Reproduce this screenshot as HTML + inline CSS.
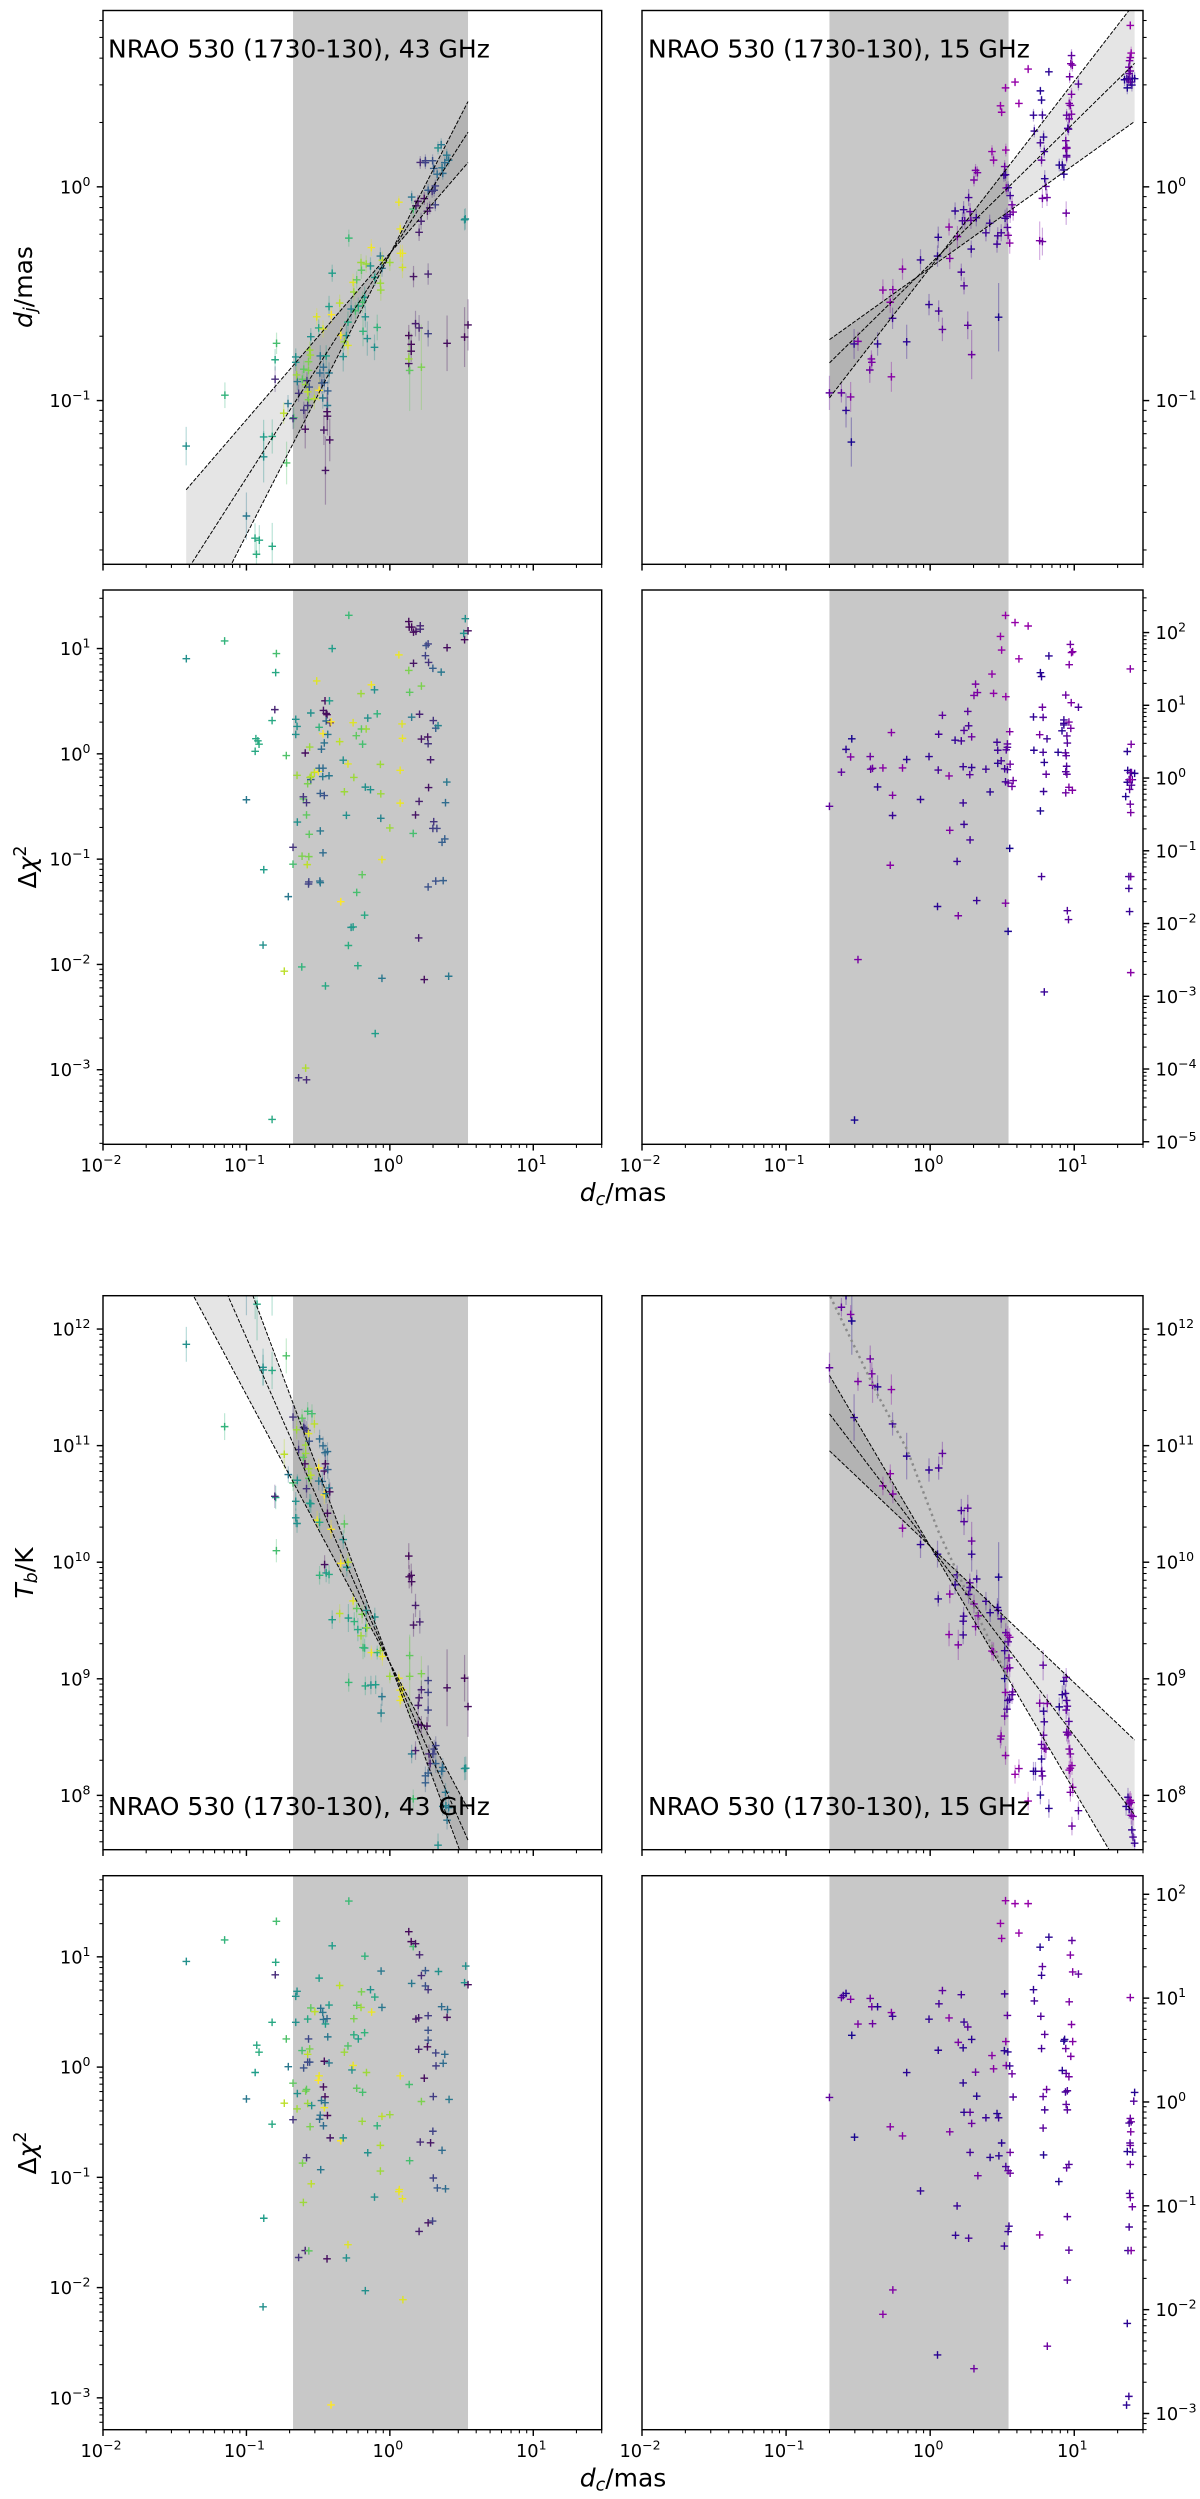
<!DOCTYPE html>
<html lang="en">
<head>
<meta charset="utf-8">
<title>NRAO 530 jet distance and brightness temperature fits</title>
<style>
html,body{margin:0;padding:0;background:#fff;}
svg{display:block;font-family:"DejaVu Sans","Liberation Sans",sans-serif;}
</style>
</head>
<body>
<svg id="figure" xmlns="http://www.w3.org/2000/svg" width="1200" height="2499" viewBox="0 0 1200 2499">
<defs id="clips"></defs>
<g id="plots"></g>
<g font-size="25" fill="#000">
<text x="108" y="57.5">NRAO 530 (1730-130), 43 GHz</text>
<text x="648" y="57.5">NRAO 530 (1730-130), 15 GHz</text>
<text x="108" y="1815">NRAO 530 (1730-130), 43 GHz</text>
<text x="648" y="1815">NRAO 530 (1730-130), 15 GHz</text>
</g>
<g font-size="25" fill="#000">
<text transform="translate(32,287) rotate(-90)" text-anchor="middle"><tspan font-style="italic">d</tspan><tspan font-style="italic" font-size="17.5" dy="4">j</tspan><tspan dy="-4">/mas</tspan></text>
<text transform="translate(36,867) rotate(-90)" text-anchor="middle">Δ<tspan font-style="italic">χ</tspan><tspan font-size="17.5" dy="-10">2</tspan></text>
<text transform="translate(33,1573) rotate(-90)" text-anchor="middle"><tspan font-style="italic">T</tspan><tspan font-style="italic" font-size="17.5" dy="4">b</tspan><tspan dy="-4">/K</tspan></text>
<text transform="translate(36,2153) rotate(-90)" text-anchor="middle">Δ<tspan font-style="italic">χ</tspan><tspan font-size="17.5" dy="-10">2</tspan></text>
<text x="623" y="1201" text-anchor="middle"><tspan font-style="italic">d</tspan><tspan font-style="italic" font-size="17.5" dy="4">c</tspan><tspan dy="-4">/mas</tspan></text>
<text x="623" y="2486.5" text-anchor="middle"><tspan font-style="italic">d</tspan><tspan font-style="italic" font-size="17.5" dy="4">c</tspan><tspan dy="-4">/mas</tspan></text>
</g>
</svg>
<script>
// All values below are log10 of the plotted quantity.
const xTickExponents = [-2,-1,0,1];
const yTickExpJet = [-1,0];
const yTickExpChiTop43 = [-3,-2,-1,0,1];
const yTickExpChiTop15 = [-5,-4,-3,-2,-1,0,1,2];
const yTickExpTb = [8,9,10,11,12];
const yTickExpChiBottom43 = [-3,-2,-1,0,1];
const yTickExpChiBottom15 = [-3,-2,-1,0,1,2];

const coreBand43 = [-0.675,0.545];
const coreBand15 = [-0.699,0.544];

const jetFitRange43 = [-1.42,0.545];
const jetFitSlopes43 = [0.779,1.047,1.312];
const jetFitIntercepts43 = [-0.311,-0.315,-0.316];
const jetFitRange15 = [-0.699,1.419];
const jetFitSlopes15 = [0.482,0.662,0.872];
const jetFitIntercepts15 = [-0.378,-0.361,-0.378];
const tbFitRange43 = [-1.42,0.545];
const tbFitSlopes43 = [-2.30,-2.79,-3.30];
const tbFitIntercepts43 = [9.136,9.136,9.136];
const tbFitRange15 = [-0.699,1.419];
const tbFitSlopes15 = [-1.171,-1.624,-2.097];
const tbFitIntercepts15 = [10.137,10.137,10.137];
const tbDottedLogDc15 = [-0.693,-0.533,-0.36,-0.16,0.053,0.2,0.427,0.547];
const tbDottedLogTb15 = [12.279,11.869,11.425,10.966,10.276,9.882,9.29,8.995];

const jetDc43 = [-1.42,-1.15,-1,-.94,-.91,-.93,-.82,-.88,-.88,-.82,-.8,-.8,-.79,-.74,-.72,-.71,-.67,-.675,-.656,-.656,-.645,-.65,-.636,-.61,-.6,-.6,-.59,-.587,-.578,-.573,-.567,-.567,-.562,-.559,-.554,-.551,-.567,-.573,-.526,-.51,-.493,-.496,-.488,-.485,-.466,-.463,-.474,-.457,-.444,-.468,-.435,-.433,-.424,-.424,-.408,-.402,-.46,-.438,-.435,-.419,-.449,-.35,-.342,-.325,-.303,-.292,-.317,-.292,-.286,-.27,-.256,-.251,-.24,-.231,-.22,-.198,-.201,-.165,-.187,-.19,-.176,-.171,-.157,-.135,-.129,-.107,-.105,-.088,-.066,-.055,-.052,-.066,-.063,0,.063,.072,.074,.088,.088,.132,.149,.149,.132,.132,.138,.22,.165,.179,.204,.204,.218,.267,.267,.399,.521,.545,.521,.526,.163,.152,.182,.196,.24,.262,.278,.267,.295,.309,.317,.317,.306,.33,.369,.364,.212,.248,.248,.298,.383,.397,.41,.336,.358];
const jetVal43 = [-1.213,-.975,-1.54,-1.644,-1.653,-1.719,-1.682,-1.263,-1.17,-1.168,-.9,-.809,-.732,-1.059,-1.292,-1.014,-1.08,-1.084,-.796,-.821,-.911,-.88,-.966,-.9,-.853,-1.045,-1.134,-.925,-.907,-.959,-.818,-.859,-.937,-.764,-.787,-.701,-.996,-1.023,-.991,-.608,-.952,-.66,-.871,-.791,-.665,-.844,-.918,-.916,-.791,-.988,-1.023,-.955,-.871,-.56,-.598,-.404,-1.138,-1.052,-1.073,-1.184,-1.327,-.544,-.694,-.794,-.696,-.633,-.725,-.742,-.24,-.572,-.447,-.492,-.58,-.435,-.558,-.39,-.354,-.361,-.676,-.54,-.517,-.608,-.71,-.37,-.284,-.751,-.424,-.658,-.324,-.381,-.343,-.451,-.483,-.354,-.072,-.197,-.311,-.311,-.377,-.696,-.737,-.769,-.827,-.805,-.859,-.844,-.42,-.64,-.66,-.213,-.161,-.687,-.408,-.732,-.703,-.646,-.154,-.15,-.104,-.048,-.089,-.068,-.055,-.114,-.098,-.016,-.021,-.016,-.084,.004,.086,.059,.063,.089,.114,.113,.122,.122,.113,.148,.125,.182,.197];
const jetEpoch43 = [.5,.65,.4,.6,.6,.62,.6,.5,.55,.6,.12,.6,.7,.9,.72,.4,.7,.15,.5,.5,.4,.85,.15,.75,.75,.15,.03,.85,.18,.9,.8,.8,.25,.85,.85,.5,.8,.15,.9,.95,1,.6,.35,.4,.95,.35,.25,.3,.55,.4,.4,.3,.4,.55,1,.55,.05,.03,.03,.03,.05,.9,1,.5,.5,.6,.85,.95,.68,.45,.95,.85,.7,.75,.6,.75,.85,.85,.65,.7,.55,.5,.5,.5,.98,.5,.55,.65,.4,.4,.9,.85,.85,.85,.97,.97,.97,.97,.93,.02,.02,.02,.05,.85,.75,.8,.05,.08,.1,.08,.1,.2,.1,.03,.02,.03,.5,.5,.7,.38,.05,.05,.03,.05,.1,.3,.15,.2,.2,.2,.3,.35,.35,.38,.12,.2,.2,.25,.35,.4,.38,.5,.4];
const jetErr43 = [.09,.06,.11,.07,.07,.07,.11,.12,.08,.08,.06,.05,.05,.05,.1,.04,.05,.05,.04,.04,.04,.04,.04,.04,.04,.04,.09,.04,.04,.05,.04,.04,.04,.04,.04,.04,.05,.04,.05,.04,.05,.04,.05,.05,.04,.05,.05,.05,.05,.05,.05,.05,.05,.05,.04,.04,.07,.09,.09,.1,.16,.04,.04,.07,.05,.05,.04,.05,.04,.05,.04,.04,.04,.04,.04,.04,.04,.04,.07,.05,.05,.05,.08,.04,.04,.06,.04,.06,.04,.04,.04,.05,.05,.04,.03,.03,.04,.04,.05,.05,.05,.05,.05,.06,.19,.2,.05,.06,.06,.04,.04,.06,.05,.13,.14,.12,.05,.05,.04,.03,.03,.03,.03,.04,.03,.03,.03,.03,.03,.03,.03,.03,.03,.03,.03,.03,.03,.03,.03,.03,.03,.03,.03];

const jetDc15 = [1.389,1.395,1.389,1.384,1.379,1.389,1.381,1.365,1.349,1.376,1.403,1.419,1.389,1.368,1.4,.981,.976,.987,.968,1.029,.981,.965,.973,.981,.947,.965,.955,.96,.941,.947,.941,.949,.947,.947,.896,.917,.928,.928,.944,.68,.589,.523,.488,.496,.616,.824,.765,.773,.717,.779,.723,.787,.765,.792,.773,.795,.803,.779,.811,.76,.779,.429,.525,.44,.517,.523,.512,.315,.328,.304,.528,.541,.555,.568,.576,.555,.533,.52,.536,.541,.552,.267,.173,.232,.277,.32,.224,.24,.283,.413,.387,.469,.493,.464,.285,.131,.189,.056,.051,-.067,.136,-.192,.216,.235,-.328,-.259,-.277,-.008,.059,.085,-.261,.261,.475,.288,-.163,-.365,-.528,-.501,-.408,-.405,-.419,-.269,-.699,-.616,-.552,-.584,-.547];
const jetVal15 = [.755,.626,.605,.59,.56,.542,.53,.506,.501,.501,.508,.506,.49,.463,.476,.614,.576,.569,.515,.481,.433,.39,.381,.34,.335,.318,.274,.27,.216,.184,.179,.181,.147,.14,.102,.102,.079,.059,-.123,.551,.49,.463,.379,.349,.39,.538,.449,.406,.335,.336,.261,.233,.206,.165,.125,.038,.002,-.054,-.05,-.252,-.256,.165,.172,.125,.095,.057,.054,.077,.066,.032,-.005,-.004,-.041,-.084,-.118,-.129,-.138,-.147,-.19,-.227,-.263,-.05,-.113,-.107,-.116,-.145,-.159,-.159,-.157,-.17,-.215,-.229,-.215,-.268,-.291,-.188,-.233,-.236,-.324,-.342,-.335,-.385,-.399,-.463,-.483,-.481,-.54,-.551,-.581,-.667,-.615,-.648,-.61,-.785,-.725,-.735,-.735,-.723,-.805,-.821,-.857,-.889,-.964,-.964,-.983,-1.046,-1.194];
const jetEpoch15 = [1,1,.9,.8,.7,.75,.6,.3,.1,.4,.3,.15,.6,.1,.2,.6,.8,.8,.7,.5,.8,.8,.8,.8,.6,.7,.3,.5,.7,.6,.8,.8,.5,.6,.15,.2,.2,.2,.7,1,1,1,1,1,1,.2,.15,.15,.25,.3,.25,.2,.4,.35,.6,.2,.6,.7,.7,.8,.7,.95,1,.95,.7,.3,.3,.8,.8,.8,.8,.3,.35,.7,.8,.6,.5,.3,.5,.8,.9,.4,.25,.3,.6,.3,.3,.5,.6,.3,.35,.35,.4,.35,.25,.9,.8,.2,.2,.25,.85,.9,.4,.5,.9,.85,.9,.25,.4,.6,.3,.55,.1,.7,.2,.2,.25,.8,.8,.8,.7,.9,.6,.6,.85,.2,.05];
const jetErr15 = [.02,.03,.03,.03,.03,.03,.03,.03,.03,.03,.03,.03,.03,.03,.03,.03,.03,.03,.03,.03,.03,.03,.03,.03,.03,.03,.03,.03,.03,.03,.03,.03,.03,.03,.03,.03,.03,.03,.055,.02,.02,.02,.02,.02,.02,.02,.02,.02,.03,.03,.03,.03,.03,.03,.03,.04,.04,.045,.04,.09,.065,.03,.03,.03,.03,.03,.03,.03,.03,.03,.03,.03,.03,.04,.04,.04,.04,.04,.04,.04,.05,.04,.04,.04,.04,.04,.04,.04,.04,.04,.04,.04,.04,.04,.04,.04,.05,.05,.05,.05,.05,.05,.04,.04,.05,.05,.05,.05,.05,.055,.05,.065,.16,.115,.08,.055,.07,.045,.04,.04,.06,.07,.08,.045,.07,.08,.115];

const chiDc43 = [-1.419,-1.152,-1,-.939,-.934,-.92,-.912,-.884,-.879,-.821,-.821,-.802,-.796,-.791,-.736,-.722,-.708,-.675,-.675,-.656,-.647,-.656,-.647,-.645,-.636,-.614,-.612,-.603,-.603,-.59,-.587,-.581,-.581,-.581,-.573,-.576,-.567,-.565,-.565,-.562,-.559,-.556,-.551,-.551,-.548,-.526,-.51,-.499,-.493,-.493,-.488,-.485,-.485,-.485,-.477,-.466,-.466,-.466,-.457,-.468,-.457,-.452,-.463,-.449,-.444,-.438,-.444,-.433,-.424,-.421,-.416,-.41,-.402,-.35,-.342,-.325,-.317,-.303,-.292,-.286,-.289,-.27,-.256,-.256,-.251,-.234,-.223,-.231,-.201,-.198,-.193,-.19,-.171,-.165,-.176,-.154,-.135,-.129,-.107,-.102,-.088,-.066,-.063,-.063,-.055,-.055,0,.063,.072,.072,.085,.088,.132,.138,.132,.135,.152,.165,.165,.152,.163,.179,.182,.201,.204,.207,.212,.212,.22,.22,.24,.248,.253,.267,.267,.264,.267,.27,.27,.284,.3,.303,.306,.3,.32,.32,.336,.328,.358,.364,.372,.383,.388,.397,.399,.41,.521,.515,.526,.545];
const chiVal43 = [.904,1.072,-.436,.024,.144,.124,.092,-1.816,-1.1,-3.472,.316,.42,.772,.952,-2.064,-.016,-1.356,-1.048,-.888,.328,.26,.184,-.204,-.648,-3.076,-2.024,-.972,-.428,-.408,.008,-2.984,-.464,-3.096,-.58,-.284,-1.052,-1.236,-1.216,-.976,-.764,.064,-.224,-.244,.388,-.216,-.176,.692,-.168,.252,-.136,-1.208,-1.224,-.732,-.376,.044,-.136,-.94,.192,.104,-.216,-.396,.504,.412,-2.204,.384,.372,.312,.184,-.208,.504,.296,.304,1,.116,-1.404,-.06,-.36,-.584,-.096,1.316,-1.82,-1.648,-1.644,.296,-.224,.172,-2.012,-1.316,.572,.236,-1.148,.092,-.316,.236,-1.532,.34,-.34,.656,.608,-2.656,.38,-.1,-.38,-.612,-1.004,-2.132,-.704,.94,-.156,-.468,.284,.148,.792,.584,1.256,1.204,1.204,1.156,.86,.348,-.756,-.58,1.164,-1.748,-.452,.376,1.216,1.184,.644,.14,-2.144,.932,1.028,1.044,-1.264,.16,.096,.868,-.32,-.056,.812,.316,-.644,-.708,.244,-1.208,.268,-.708,.776,-.84,-1.204,-.808,-.464,-.268,1.008,-2.112,1.084,1.144,1.284,1.168];
const chiEpoch43 = [.5,.65,.4,.6,.6,.6,.62,.5,.55,.6,.6,.1,.6,.7,.9,.72,.4,.7,.15,.5,.5,.5,.85,.5,.15,.65,.8,.75,.15,.03,.88,.15,.12,.75,.8,.9,.2,.2,.8,.75,.85,.85,.3,.5,.9,.9,.95,1,.65,.35,.35,.4,.4,.3,.35,.35,.35,1,.38,.4,.25,.03,.05,.6,.03,.03,.35,.4,.4,.55,.03,1,.55,.9,1,.5,.85,.5,.95,.68,.62,.5,.55,.95,.85,.75,.6,.7,.85,.75,.75,.7,.5,.85,.6,.5,.5,.98,.5,.55,.65,.85,.85,.45,.97,.4,.85,.97,.97,.97,.95,.97,.8,.75,.02,.02,.02,.02,.05,.4,.7,.05,.05,.08,.08,.1,.1,.12,.8,.05,.03,.2,.25,.2,.25,.05,.15,.15,.05,.08,.3,.15,.15,.18,.3,.25,.45,.2,.4,.3,.3,.3,.35,.4,.03,.4,.02,.5,.5,.03];

const chiDc15 = [-.699,-.616,-.584,-.552,-.544,-.525,-.501,-.416,-.413,-.4,-.365,-.328,-.277,-.269,-.261,-.261,-.192,-.163,-.067,-.008,.051,.056,.059,.085,.131,.136,.173,.187,.195,.216,.229,.229,.235,.235,.261,.267,.275,.277,.288,.288,.304,.315,.328,.323,.387,.416,.429,.44,.464,.469,.469,.493,.488,.496,.517,.523,.523,.525,.523,.528,.536,.536,.536,.541,.541,.552,.552,.555,.568,.576,.589,.616,.68,.717,.72,.76,.765,.765,.773,.773,.779,.784,.784,.787,.792,.792,.805,.811,.824,.888,.915,.928,.928,.928,.941,.939,.944,.947,.941,.949,.941,.949,.952,.952,.96,.963,.976,.963,.965,.973,.981,.989,.979,.987,1.029,1.389,1.395,1.368,1.371,1.389,1.397,1.419,1.403,1.368,1.381,1.389,1.397,1.384,1.357,1.389,1.392,1.379,1.392,1.379,1.384,1.392];
const chiVal15 = [-.388,.081,.394,.29,.539,-4.702,-2.496,.295,.122,.133,-.122,.139,-1.199,.625,-.237,-.515,.139,.255,-.295,.295,-1.766,.11,.602,.863,.029,-.718,.521,-1.146,-1.893,.51,-.342,.156,.654,-.637,.915,.718,.046,-.851,.567,.145,1.135,1.291,1.175,-1.685,.122,-.191,1.43,1.164,.492,.382,.203,.237,1.946,1.76,.127,2.235,-1.72,1.118,-.052,.388,.116,.423,.469,-.069,-2.108,.637,-.967,.191,-.116,-.035,2.137,1.639,2.09,.84,.382,.596,1.448,-.452,1.395,-1.355,.973,.834,.353,-.185,.214,-2.941,.052,.539,1.679,.353,.649,.799,.753,.73,1.141,.347,.307,.162,.087,.052,-.203,.579,.481,-1.824,-1.946,.77,.683,-.127,1.558,1.836,1.725,1.737,1.036,-.168,.973,1.5,.463,.365,.104,.075,.075,.064,-.023,-.058,-.023,-.023,-.098,-.156,-.255,-.359,-.475,-1.355,-1.355,-1.517,-1.836,-2.675];
const chiEpoch15 = [.6,.6,.2,.85,.05,.05,.8,.7,.6,.7,.2,.9,.9,.9,.85,.3,.9,.2,.25,.25,.2,.4,.4,.6,.9,.85,.25,.3,.8,.4,.3,.3,.5,.3,.55,.4,.55,.4,.7,.25,.8,.8,.8,.3,.35,.2,.95,.95,.35,.35,.2,.4,1,1,.35,1,.85,1,.35,.5,.4,.55,.6,.6,.1,.85,.05,.7,.7,.7,1,1,1,.25,.2,.8,.15,.1,.2,.4,.7,.5,.4,.3,.2,.3,.6,.35,.2,.15,.2,.3,.3,.3,.7,.5,.6,.45,.5,.6,.7,.55,.5,.5,.55,.8,.75,.8,.85,.75,.85,.9,.8,.85,.45,.9,.8,.2,.2,.3,.7,.15,.5,.2,.6,1,.5,.6,.15,.7,.8,.3,.7,.3,.3,.9];

const tbDc43 = [-1.419,-1.152,-1,-.939,-.926,-.821,-.884,-.884,-.821,-.722,-.796,-.802,-.791,-.736,-.708,-.675,-.675,-.656,-.656,-.647,-.645,-.65,-.636,-.612,-.603,-.601,-.592,-.592,-.587,-.587,-.581,-.579,-.573,-.567,-.565,-.565,-.551,-.551,-.559,-.543,-.526,-.562,-.507,-.496,-.49,-.49,-.471,-.496,-.466,-.452,-.435,-.457,-.457,-.449,-.444,-.433,-.424,-.419,-.435,-.41,-.455,-.49,-.444,-.424,-.402,-.35,-.342,-.325,-.317,-.3,-.292,-.287,-.289,-.256,-.248,-.231,-.223,-.201,-.193,-.187,-.176,-.168,-.16,-.171,-.165,-.132,-.129,-.105,-.099,-.088,-.066,-.061,-.055,-.052,0,.063,.072,.088,.072,.083,.132,.135,.149,.152,.138,.138,.22,.165,.179,.209,.267,.267,.267,.22,.204,.198,.198,.22,.259,.399,.521,.545,.152,.179,.273,.281,.3,.309,.32,.32,.361,.369,.248,.267,.248,.163,.388,.369,.391,.41,.399,.336,.521,.529];
const tbVal43 = [11.869,11.163,12.378,12.345,12.213,12.345,11.649,11.672,11.645,11.77,10.555,10.565,10.099,10.926,10.752,10.68,11.245,10.522,10.381,10.332,10.703,11.136,10.966,11.235,10.9,11.156,11.146,10.844,11.005,10.933,10.631,11.13,11.294,11.103,10.801,10.719,10.746,10.502,10.506,11.274,11.186,11.038,10.361,10.808,10.342,11.057,10.693,10.696,10.998,10.939,10.949,10.578,10.782,10.844,10.588,10.795,10.637,10.604,10.42,10.282,9.98,9.888,9.908,9.895,9.507,9.56,9.99,10.194,10.328,9.957,10,8.969,9.521,9.668,9.491,9.603,9.422,9.369,9.553,9.268,9.264,9.435,9.438,8.939,9.586,8.946,9.225,9.53,8.949,9.225,9.241,8.706,8.847,9.192,9.021,9.005,8.903,8.906,8.814,8.847,10.053,9.875,9.888,9.833,9.199,9.021,9.044,9.461,9.629,9.488,8.985,8.883,8.732,8.906,8.837,8.772,8.608,8.601,8.594,8.923,9.005,8.762,8.355,8.384,8.355,8.273,8.355,8.397,8.427,8.273,8.207,8.24,8.168,8.191,8.108,7.97,8.026,7.905,7.911,7.895,7.787,7.573,8.23,8.233];
const tbEpoch43 = [.5,.65,.4,.6,.6,.6,.5,.5,.6,.72,.6,.12,.7,.9,.4,.7,.15,.5,.5,.5,.5,.85,.15,.75,.75,.15,.18,.03,.85,.85,.15,.18,.7,.95,.85,.75,.9,.5,.55,.7,.9,.25,.97,1,.6,.35,.35,.4,.35,.35,.35,1,.05,.03,.4,.3,.4,.03,.03,1,.03,.65,.55,.6,.55,.9,1,.5,.75,.5,.9,.68,.55,.95,.65,.75,.6,.85,.8,.7,.65,.55,.85,.6,.5,.5,.98,.5,.55,.65,.85,.45,.4,.97,.85,.97,.97,.97,.97,.97,.02,.02,.03,.03,.75,.8,.8,.05,.08,.1,.2,.2,.2,.1,.08,.08,.05,.03,.03,.03,.02,.03,.4,.08,.1,.1,.2,.2,.2,.3,.35,.35,.3,.3,.3,.7,.4,.4,.45,.4,.38,.5,.5,.5];
const tbErr43 = [.15,.115,.26,.26,.31,.23,.13,.16,.16,.15,.1,.1,.1,.13,.07,.07,.1,.08,.08,.08,.05,.08,.08,.08,.08,.08,.08,.08,.08,.08,.08,.08,.08,.08,.08,.08,.08,.08,.08,.08,.08,.08,.08,.08,.08,.08,.08,.08,.08,.08,.08,.08,.08,.08,.08,.08,.08,.08,.08,.08,.08,.08,.08,.08,.08,.08,.08,.08,.08,.08,.08,.08,.12,.08,.08,.08,.1,.08,.08,.1,.08,.08,.08,.08,.08,.08,.06,.08,.08,.06,.08,.08,.08,.08,.06,.06,.06,.06,.06,.06,.11,.1,.1,.1,.18,.34,.15,.1,.1,.1,.13,.12,.1,.08,.08,.08,.08,.08,.08,.33,.2,.26,.08,.08,.08,.08,.08,.08,.08,.08,.08,.08,.08,.08,.08,.08,.08,.08,.08,.08,.08,.1,.1,.1];

const tbDc15 = [-.699,-.616,-.584,-.552,-.544,-.416,-.405,-.4,-.365,-.501,-.528,-.269,-.261,-.277,-.328,-.259,-.163,-.192,-.067,-.008,.059,.085,.051,.056,.136,.131,.195,.173,.187,.216,.235,.261,.288,.288,.275,.277,.267,.304,.333,.315,.323,.232,.229,.229,.387,.416,.467,.475,.472,.493,.429,.44,.525,.539,.552,.541,.517,.547,.536,.552,.517,.523,.573,.568,.539,.552,.533,.517,.493,.488,.523,.589,.616,.68,.717,.731,.773,.779,.765,.824,.773,.773,.787,.792,.787,.76,.813,.784,.803,.792,.896,.917,.939,.947,.952,.944,.928,.944,.963,.947,.96,.955,.965,.973,.973,.984,.965,.989,.973,1.029,.984,1.373,1.384,1.395,1.36,1.381,1.395,1.408,1.4,1.408,1.419,1.389,1.381];
const tbVal15 = [11.668,12.187,12.286,12.125,12.069,11.744,11.616,11.517,11.504,11.55,11.241,11.481,11.186,10.759,10.654,10.585,10.91,10.292,10.151,10.791,10.808,10.933,10.069,9.685,9.727,9.379,9.291,9.806,9.892,10.443,10.348,10.463,10.181,10.069,9.823,9.783,9.724,9.642,9.54,9.448,9.856,9.537,9.494,9.376,9.665,9.567,9.612,9.872,9.586,9.514,9.238,9.232,9.396,9.373,9.356,9.317,9.241,9.179,9.087,9.094,9.002,8.883,8.887,8.864,8.814,8.824,8.739,8.68,8.509,8.483,8.342,8.181,8.23,7.951,8.207,8.207,8.207,8.167,8.003,7.888,8.312,8.437,8.516,8.631,8.722,8.791,8.788,9.117,8.397,8.404,8.759,8.864,8.874,8.814,8.765,8.732,8.979,9.012,8.634,8.542,8.535,8.519,8.397,8.355,8.233,8.256,8.217,8.069,8.026,7.869,7.737,7.984,7.944,7.938,7.905,7.879,7.829,7.819,7.704,7.642,7.59,7.957,7.928];
const tbEpoch15 = [.6,.6,.2,.85,.05,.7,.75,.7,.2,.8,.25,.9,.3,.9,.9,.85,.2,.9,.25,.25,.4,.6,.2,.2,.85,.9,.8,.25,.3,.4,.5,.55,.7,.25,.55,.4,.4,.8,.8,.8,.3,.3,.3,.3,.3,.2,.2,.1,.35,.4,.95,.9,.6,.85,.9,.5,.3,.7,.85,.7,.1,.9,.7,.5,.3,.4,.4,.7,.9,.8,.9,1,.9,1,.25,.2,.5,.6,.15,.2,.2,.6,.6,.3,.2,.8,.8,.6,.8,.7,.15,.2,.3,.4,.5,.6,.2,.6,.5,.6,.8,.7,.8,.8,.9,.9,.9,.9,.8,.5,.7,.3,.9,.95,.2,.3,.8,.8,.3,.4,.3,.9,.7];
const tbErr15 = [.13,.08,.08,.08,.29,.115,.1,.15,.1,.08,.2,.13,.1,.08,.08,.08,.2,.08,.115,.1,.1,.1,.115,.065,.08,.1,.13,.08,.08,.1,.115,.115,.165,.15,.08,.08,.08,.08,.08,.08,.08,.08,.08,.08,.08,.08,.08,.3,.08,.08,.08,.08,.08,.08,.08,.08,.08,.08,.08,.08,.33,.08,.08,.08,.08,.08,.08,.08,.08,.08,.08,.08,.08,.08,.08,.08,.08,.08,.08,.08,.08,.08,.08,.08,.08,.08,.08,.13,.08,.08,.08,.08,.08,.08,.08,.08,.08,.08,.08,.08,.08,.08,.08,.08,.08,.08,.08,.08,.08,.08,.08,.08,.08,.08,.08,.08,.08,.08,.08,.08,.08,.08,.08];

const chi2Dc43 = [-1.419,-1.152,-1,-.939,-.928,-.912,-.884,-.879,-.821,-.821,-.799,-.796,-.791,-.736,-.722,-.708,-.675,-.675,-.656,-.656,-.647,-.647,-.645,-.636,-.612,-.609,-.603,-.601,-.59,-.587,-.581,-.581,-.573,-.573,-.573,-.567,-.565,-.573,-.559,-.556,-.559,-.548,-.551,-.545,-.523,-.493,-.499,-.493,-.49,-.485,-.482,-.482,-.477,-.468,-.463,-.463,-.457,-.457,-.463,-.452,-.449,-.452,-.438,-.438,-.435,-.433,-.424,-.424,-.416,-.41,-.402,-.35,-.342,-.325,-.317,-.303,-.292,-.292,-.286,-.264,-.256,-.251,-.251,-.231,-.231,-.22,-.201,-.198,-.193,-.19,-.176,-.174,-.171,-.163,-.154,-.135,-.127,-.105,-.107,-.088,-.066,-.066,-.061,-.055,-.055,0,.063,.072,.066,.088,.091,.132,.135,.138,.149,.152,.163,.179,.182,.201,.201,.204,.207,.22,.22,.212,.24,.248,.248,.267,.267,.267,.267,.262,.267,.284,.298,.303,.3,.303,.32,.322,.331,.339,.361,.364,.372,.383,.388,.399,.402,.413,.521,.529,.545];
const chi2Val43 = [.958,1.153,-.289,-.049,.199,.135,-2.174,-1.371,.406,-.518,.837,.95,1.322,-.327,.255,.004,-.146,-.477,.406,.642,.687,-.379,-.24,-1.727,.15,-.871,-1.228,-.008,-1.664,-.218,-.203,-.822,.436,.116,-.33,.255,-1.667,.045,.045,-.541,.165,-1.059,.537,-.349,.503,.807,-.12,-.079,-.473,-.436,.533,-.931,-.304,.496,-.533,.432,.053,-.368,-.18,-.27,.391,-.323,.439,-1.739,-.439,.274,.038,.563,-.642,-3.064,1.1,.74,-.668,-.642,.135,-1.731,.192,-1.611,1.506,-.026,.015,.293,.439,.56,-.192,.255,.541,.683,-.492,-.229,.312,1.006,-2.028,-.049,-.777,.702,.499,.635,-1.179,-.533,-.71,-.943,.871,.541,-.447,-.432,-1.13,-.079,-1.111,-1.194,-2.11,1.228,-.158,-.849,1.138,.759,1.093,1.119,.436,.447,.161,-1.491,1.018,.83,-.312,-.68,-.101,.736,.875,.702,.466,.334,.244,.184,-1.412,-.687,-1.397,-.267,-.582,-1.006,.128,.011,-1.096,.867,.548,-.755,.034,.116,-1.104,.451,.522,-.293,.766,.916,.747];
const chi2Epoch43 = [.5,.65,.4,.55,.6,.62,.5,.55,.6,.6,.12,.6,.7,.9,.72,.4,.75,.15,.5,.5,.5,.85,.5,.15,.7,.8,.85,.25,.1,.8,.75,.15,.6,.9,.85,.22,.75,.2,.25,.8,.8,.9,.75,.5,.9,.55,1,.97,.35,.38,.38,.4,.38,.4,.35,.38,.03,.97,.03,.03,.55,.38,.35,.03,.03,.4,.4,.55,.05,1,.55,.9,1,.5,.85,.5,.72,.95,.68,.5,.97,.62,.8,.75,.75,.55,.85,.8,.85,.7,.65,.65,.5,.85,.5,.5,.97,.6,.5,.65,.88,.85,.4,.4,.9,.85,.97,.97,.97,.97,.95,.02,.7,.7,.02,.4,.7,.05,.05,.08,.1,.08,.1,.12,.8,.12,.03,.25,.28,.15,.18,.25,.25,.03,.05,.06,.2,.18,.2,.2,.2,.18,.28,.5,.35,.35,.35,.35,.35,.03,.35,.4,.5,.5,.03];

const chi2Dc15 = [-.699,-.616,-.603,-.584,-.552,-.544,-.525,-.501,-.416,-.405,-.4,-.365,-.328,-.277,-.269,-.259,-.261,-.192,-.163,-.067,-.008,.051,.056,.061,.085,.131,.136,.176,.187,.195,.216,.229,.229,.235,.235,.261,.267,.277,.277,.288,.288,.304,.315,.323,.331,.387,.416,.429,.44,.464,.475,.477,.488,.496,.496,.515,.523,.517,.525,.525,.528,.515,.536,.539,.541,.547,.541,.555,.552,.555,.568,.576,.589,.616,.68,.717,.723,.763,.768,.76,.773,.779,.773,.784,.784,.787,.795,.795,.808,.813,.824,.893,.917,.928,.933,.941,.944,.939,.944,.952,.952,.963,.947,.963,.952,.963,.952,.965,.973,.984,.976,.989,.981,.989,1.029,1.389,1.419,1.413,1.389,1.395,1.381,1.392,1.387,1.389,1.368,1.405,1.389,1.384,1.389,1.403,1.381,1.373,1.395,1.368,1.379,1.363];
const chi2Val15 = [.044,1.005,1.025,1.045,.989,.642,-.339,.75,.997,.917,.754,.917,-2.045,-.239,.861,-1.81,.825,-.327,.283,-.857,.797,-2.436,.498,.945,1.073,.809,-.287,-1.284,-1.001,.574,1.033,.183,.522,.77,-.1,.722,-1.312,-.1,-.486,-.207,.602,-2.568,.287,.056,-.71,-.152,-.534,.447,.319,-.112,-.152,-.518,1.719,1.575,-.395,.494,1.938,1.041,.582,-.622,.351,-1.388,.833,.482,-1.248,-1.196,-.662,-.686,.347,-.486,.271,.048,1.91,1.627,1.91,1.081,.973,1.491,.825,-1.28,1.22,1.304,.514,.052,-.251,-.51,-.076,.65,.12,-2.352,1.587,-.766,.303,.586,.602,.514,.275,.096,-.024,-.076,.108,.243,-.634,-.602,-1.104,-1.427,-1.715,.965,1.415,1.555,.439,.582,.746,1.252,1.232,1.005,.092,.008,-.159,-.191,-.203,-.287,-.395,-.419,-.478,-.482,-.602,-.881,-.921,-1.009,-1.204,-1.431,-1.431,-2.133,-2.835,-2.919];
const chi2Epoch15 = [.6,.6,.4,.2,.85,.05,.05,.8,.7,.7,.7,.2,.9,.9,.9,.85,.3,.9,.2,.25,.25,.2,.2,.4,.6,.9,.85,.25,.3,.8,.4,.2,.2,.3,.2,.55,.4,.55,.4,.7,.2,.7,.7,.15,.7,.3,.2,.9,.9,.15,.3,.2,1,1,.2,.2,1,.35,.9,.4,.85,.3,.6,.2,.3,.3,.6,.7,.3,.7,.7,.5,1,1,1,.25,.4,.15,.5,.9,.25,.6,.4,.6,.55,.15,.4,.55,.7,.7,.2,.15,.2,.15,.2,.7,.55,.4,.6,.55,.5,.75,.6,.5,.55,.55,.55,.8,.85,.6,.8,.85,.85,.85,.6,.9,.15,.5,.7,.7,.4,.8,.5,.7,.15,.3,.7,.4,.7,.7,.4,.3,.85,.2,.3,.2];

const viridisStops = ['#440154','#482878','#3e4989','#31688e','#26828e','#1f9e89','#35b779','#6ece58','#b5de2b','#fde725'];

const svgNS = 'http://www.w3.org/2000/svg';
function make(tag, attrs, parent){
  const el = document.createElementNS(svgNS, tag);
  for(const k in attrs){ el.setAttribute(k, attrs[k]); }
  parent.appendChild(el);
  return el;
}
function hexRgb(h){ return [1,3,5].map(i=>parseInt(h.substr(i,2),16)); }
function mix(a,b,t){
  const A=hexRgb(a),B=hexRgb(b);
  return 'rgb('+A.map((v,i)=>Math.round(v+(B[i]-v)*t)).join(',')+')';
}
function viridis(c){
  const p=Math.min(Math.max(c,0),1)*(viridisStops.length-1);
  const i=Math.min(Math.floor(p),viridisStops.length-2);
  return mix(viridisStops[i],viridisStops[i+1],p-i);
}
function bluePurple(c){ return mix('#10048e','#9400a8',Math.min(Math.max(c,0),1)); }

const LEFT_COL=[103,601.7], RIGHT_COL=[642,1143];
const ROW_A=[10.5,564.3], ROW_B=[590,1144.3], ROW_C=[1295.7,1849.7], ROW_D=[1875.7,2429.7];
const panels=[
 {id:'jet-distance-43ghz',col:LEFT_COL,row:ROW_A,ylim:[-1.766,.825],x:jetDc43,y:jetVal43,c:jetEpoch43,e:jetErr43,cmap:viridis,band:coreBand43,yt:yTickExpJet,side:'left',xlab:false,fitR:jetFitRange43,fitS:jetFitSlopes43,fitI:jetFitIntercepts43},
 {id:'jet-distance-15ghz',col:RIGHT_COL,row:ROW_A,ylim:[-1.766,.825],x:jetDc15,y:jetVal15,c:jetEpoch15,e:jetErr15,cmap:bluePurple,band:coreBand15,yt:yTickExpJet,side:'right',xlab:false,fitR:jetFitRange15,fitS:jetFitSlopes15,fitI:jetFitIntercepts15},
 {id:'chi2-jet-43ghz',col:LEFT_COL,row:ROW_B,ylim:[-3.708,1.556],x:chiDc43,y:chiVal43,c:chiEpoch43,cmap:viridis,band:coreBand43,yt:yTickExpChiTop43,side:'left',xlab:true},
 {id:'chi2-jet-15ghz',col:RIGHT_COL,row:ROW_B,ylim:[-5.035,2.585],x:chiDc15,y:chiVal15,c:chiEpoch15,cmap:bluePurple,band:coreBand15,yt:yTickExpChiTop15,side:'right',xlab:true},
 {id:'brightness-43ghz',col:LEFT_COL,row:ROW_C,ylim:[7.534,12.286],x:tbDc43,y:tbVal43,c:tbEpoch43,e:tbErr43,cmap:viridis,band:coreBand43,yt:yTickExpTb,side:'left',xlab:false,fitR:tbFitRange43,fitS:tbFitSlopes43,fitI:tbFitIntercepts43},
 {id:'brightness-15ghz',col:RIGHT_COL,row:ROW_C,ylim:[7.534,12.286],x:tbDc15,y:tbVal15,c:tbEpoch15,e:tbErr15,cmap:bluePurple,band:coreBand15,yt:yTickExpTb,side:'right',xlab:false,fitR:tbFitRange15,fitS:tbFitSlopes15,fitI:tbFitIntercepts15,dotX:tbDottedLogDc15,dotY:tbDottedLogTb15},
 {id:'chi2-brightness-43ghz',col:LEFT_COL,row:ROW_D,ylim:[-3.289,1.736],x:chi2Dc43,y:chi2Val43,c:chi2Epoch43,cmap:viridis,band:coreBand43,yt:yTickExpChiBottom43,side:'left',xlab:true},
 {id:'chi2-brightness-15ghz',col:RIGHT_COL,row:ROW_D,ylim:[-3.156,2.179],x:chi2Dc15,y:chi2Val15,c:chi2Epoch15,cmap:bluePurple,band:coreBand15,yt:yTickExpChiBottom15,side:'right',xlab:true}
];
const XLIM=[-2,Math.log10(30)];
const plots=document.getElementById('plots');
const defs=document.getElementById('clips');

function tickLabel(parent,x,y,exp,anchor){
  const t=make('text',{x:x,y:y,'text-anchor':anchor,'font-size':17.8,fill:'#000'},parent);
  
  
  t.appendChild(document.createTextNode('10'));
  const s=make('tspan',{'font-size':12.5,dy:-7.5},t);
  s.textContent=String(exp).replace('-','\u2212');
}

panels.forEach(function(p){
  const L=p.col[0],R=p.col[1],T=p.row[0],B=p.row[1];
  const sx=v=>L+(v-XLIM[0])/(XLIM[1]-XLIM[0])*(R-L);
  const sy=v=>B-(v-p.ylim[0])/(p.ylim[1]-p.ylim[0])*(B-T);
  const g=make('g',{},plots);
  
  
  const cp=make('clipPath',{id:'clip-'+p.id},defs);
  make('rect',{x:L,y:T,width:R-L,height:B-T},cp);
  const inner=make('g',{'clip-path':'url(#clip-'+p.id+')'},g);
  
  

  const band=make('rect',{x:sx(p.band[0]),y:T,width:sx(p.band[1])-sx(p.band[0]),height:B-T,fill:'#c8c8c8'},inner);
  
  

  if(p.fitS){
    const N=60,top=[],bot=[];
    for(let i=0;i<=N;i++){
      const lx=p.fitR[0]+(p.fitR[1]-p.fitR[0])*i/N;
      const vals=p.fitS.map((s,k)=>p.fitI[k]+s*lx);
      top.push(sx(lx)+','+sy(Math.max.apply(null,vals)));
      bot.unshift(sx(lx)+','+sy(Math.min.apply(null,vals)));
    }
    const fill=make('polygon',{points:top.concat(bot).join(' '),fill:'rgba(0,0,0,0.1)'},inner);
    
    
  }

  if(p.e){
    p.x.forEach(function(xv,i){
      const eb=make('line',{x1:sx(xv),x2:sx(xv),y1:sy(p.y[i]-(p.e[i]||0.05)),y2:sy(p.y[i]+(p.e[i]||0.05)),stroke:p.cmap(p.c[i]),'stroke-width':1.2,'stroke-opacity':0.32},inner);
      
      
    });
  }
  p.x.forEach(function(xv,i){
    const cx=sx(xv),cy=sy(p.y[i]),a=3.8;
    const m=make('path',{d:'M'+(cx-a)+' '+cy+'H'+(cx+a)+'M'+cx+' '+(cy-a)+'V'+(cy+a),stroke:p.cmap(p.c[i]),'stroke-width':1.4,fill:'none'},inner);
    
    
  });
  if(p.fitS){
    p.fitS.forEach(function(s,k){
      const l=make('line',{x1:sx(p.fitR[0]),y1:sy(p.fitI[k]+s*p.fitR[0]),x2:sx(p.fitR[1]),y2:sy(p.fitI[k]+s*p.fitR[1]),stroke:'#000','stroke-width':1,'stroke-dasharray':'4 1.6'},inner);
      
      
    });
  }
  if(p.dotX){
    const pl=make('polyline',{points:p.dotX.map((v,i)=>sx(v)+','+sy(p.dotY[i])).join(' '),fill:'none',stroke:'#8a8a8a','stroke-width':2.4,'stroke-dasharray':'2.4 3.6'},inner);
    
    
  }

  const frame=make('rect',{x:L,y:T,width:R-L,height:B-T,fill:'none',stroke:'#000','stroke-width':1.43},g);
  
  

  const ticks=make('g',{stroke:'#000'},g);
  
  
  const labels=make('g',{},g);
  
  

  // x axis
  for(let d=-2;d<=1;d++){
    for(let m=1;m<=9;m++){
      const v=d+Math.log10(m);
      if(v>XLIM[1]+1e-6) continue;
      const major=m===1;
      make('line',{x1:sx(v),x2:sx(v),y1:B,y2:B+(major?6.25:3.6),'stroke-width':major?1.43:1.07},ticks);
    }
  }
  if(p.xlab){
    xTickExponents.forEach(function(exp){
      tickLabel(labels,sx(exp)-2,B+27.3,exp,'middle');
    });
  }
  // y axis
  const dir=p.side==='left'?-1:1;
  const ax=p.side==='left'?L:R;
  for(let d=Math.floor(p.ylim[0]);d<=Math.ceil(p.ylim[1]);d++){
    for(let m=1;m<=9;m++){
      const v=d+Math.log10(m);
      if(v<p.ylim[0]||v>p.ylim[1]) continue;
      const major=m===1;
      make('line',{x1:ax,x2:ax+dir*(major?6.25:3.6),y1:sy(v),y2:sy(v),'stroke-width':major?1.43:1.07},ticks);
    }
  }
  p.yt.forEach(function(exp){
    tickLabel(labels,ax+dir*12.5,sy(exp)+6.5,exp,p.side==='left'?'end':'start');
  });
});
</script>
</body>
</html>
